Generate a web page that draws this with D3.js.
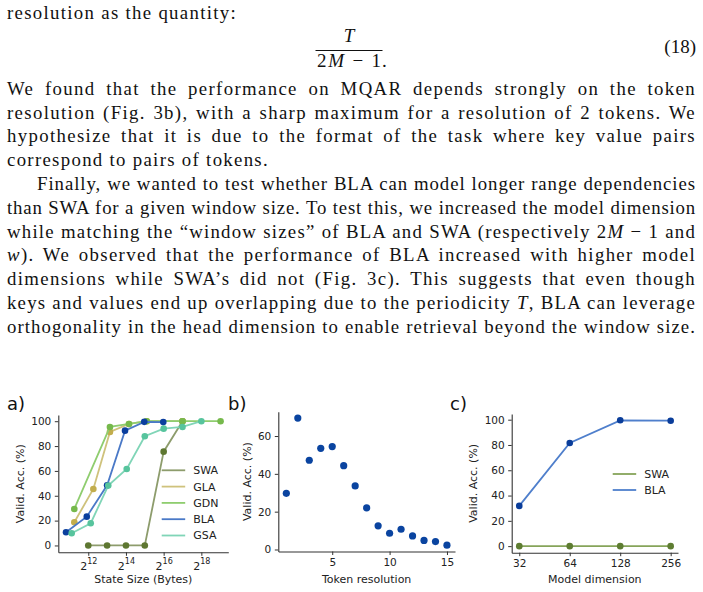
<!DOCTYPE html>
<html>
<head>
<meta charset="utf-8">
<script src="https://cdn.jsdelivr.net/npm/d3@7"></script>
<style>
  body { margin: 0; background: #fff; width: 703px; height: 592px; overflow: hidden; position: relative; }
  .ln { position: absolute; left: 7px; width: 689px; height: 23.77px; line-height: 23.77px;
        font-family: "Liberation Serif", serif; font-size: 18.8px; color: #111;
        text-align: justify; text-align-last: justify; }
  .ln.last { text-align-last: left; }
  .ln.ind { text-indent: 30px; }
  .ln span { white-space: nowrap; }
  svg { position: absolute; left: 0; top: 0; }
</style>
</head>
<body>
<div id="text"></div>
<svg id="fig" width="703" height="592"></svg>
<script>
// ---- paper text (one entry per printed line) ----
const paraLines = [
  "We found that the performance on MQAR depends strongly on the token",
  "resolution (Fig. 3b), with a sharp maximum for a resolution of 2 tokens. We",
  "hypothesize that it is due to the format of the task where key value pairs",
  "correspond to pairs of tokens.",
  "Finally, we wanted to test whether BLA can model longer range dependencies",
  "than SWA for a given window size. To test this, we increased the model dimension",
  "while matching the “window sizes” of BLA and SWA (respectively 2<i>M</i> − 1 and",
  "<i>w</i>). We observed that the performance of BLA increased with higher model",
  "dimensions while SWA’s did not (Fig. 3c). This suggests that even though",
  "keys and values end up overlapping due to the periodicity <i>T</i>, BLA can leverage",
  "orthogonality in the head dimension to enable retrieval beyond the window size."
];

// ---- panel a: state size (bytes) vs accuracy ----
const seriesNames = ["SWA", "GLA", "GDN", "BLA", "GSA"];
const swaBytes = [4096, 8192, 16384, 32768, 65536, 131072];
const swaAcc   = [0, 0, 0, 0, 75.5, 100];
const glaBytes = [2452, 4939, 9090, 18306, 35120, 131072];
const glaAcc   = [18.7, 45.5, 91.4, 97.8, 100, 100];
const gdnBytes = [2452, 9090, 18306, 35120, 131072, 531600];
const gdnAcc   = [29.4, 95.4, 97.8, 100, 100, 100];
const blaBytes = [1808, 3875, 8192, 15826, 32093, 64635];
const blaAcc   = [10.6, 23.2, 48.4, 92.4, 99.5, 99.3];
const gsaBytes = [2226, 4482, 8540, 16844, 32768, 65536, 131072, 262144];
const gsaAcc   = [9.8, 17.9, 48.2, 61.6, 87.9, 94.0, 95.4, 100];
const stateTicks = [4096, 16384, 65536, 262144];

// ---- panel b: token resolution ----
const tokenRes = [1, 2, 3, 4, 5, 6, 7, 8, 9, 10, 11, 12, 13, 14, 15];
const tokenAcc = [29.7, 69.5, 47.2, 53.5, 54.4, 44.3, 33.6, 22.0, 12.5, 8.6, 10.7, 7.2, 4.8, 4.2, 2.3];
const tokenTicks = [5, 10, 15];

// ---- panel c: model dimension ----
const modelDims = [32, 64, 128, 256];
const dimSwaAcc = [0, 0, 0, 0];
const dimBlaAcc = [31.8, 81.6, 99.5, 99.2];
const accTicks = [0, 20, 40, 60, 80, 100];

const COLORS = {
  SWA: {line: "#8d9c6c", dot: "#5e7731"},
  GLA: {line: "#cfc27c", dot: "#c2ad4c"},
  GDN: {line: "#8fcd6f", dot: "#76b94c"},
  BLA: {line: "#4a79c7", dot: "#0b3f9e"},
  GSA: {line: "#80d5b7", dot: "#57c49d"}
};
const SANS = "'DejaVu Sans', sans-serif";
const SERIF = "'Liberation Serif', serif";

/**
 * spread letters a bit (CM is wider than Times), justify does the rest
 */
const fitLine = (div, target) => {
  const span = div.select("span");
  div.style("text-align", "left").style("text-align-last", "left");
  const n = span.node().textContent.length;
  const w = span.node().getBoundingClientRect().width;
  const ls = Math.max(0, Math.min(1.35, (target - w) / n));
  div.style("letter-spacing", ls + "px").style("text-align", null).style("text-align-last", null);
  span.style("white-space", "normal");
};

/** paragraph text, each printed line its own justified box */
const drawText = () => {
  const box = d3.select("#text");
  const first = box.append("div").attr("class", "ln last").style("top", "1.4px");
  first.append("span").text("resolution as the quantity:");
  fitLine(first, 230);

  box.selectAll("div.p").data(paraLines).enter().append("div")
     .attr("class", (d, i) => "ln p" + (i === 3 ? " last" : "") + (i === 4 ? " ind" : ""))
     .style("top", (d, i) => (76.9 + i * 23.77) + "px")
     .append("span").html(d => d);
  box.selectAll("div.p").each(function(d, i) {
    const target = i === 3 ? 262 : (i === 4 ? 656 : 686);
    fitLine(d3.select(this), target);
  });
};

/** equation (18) */
const drawEquation = (svg) => {
  const eq = svg.append("g").attr("font-family", SERIF).attr("font-size", 19).attr("fill", "#111");
  eq.append("text").attr("x", 349).attr("y", 42).attr("text-anchor", "middle")
    .attr("font-style", "italic").text("T");
  eq.append("line").attr("x1", 315.5).attr("x2", 382.5).attr("y1", 50.5).attr("y2", 50.5)
    .attr("stroke", "#111").attr("stroke-width", 1);
  const den = eq.append("text").attr("x", 317).attr("y", 67)
    .attr("textLength", 64).attr("lengthAdjust", "spacing");
  den.append("tspan").text("2");
  den.append("tspan").attr("font-style", "italic").text("M");
  den.append("tspan").text(" − 1");
  eq.append("text").attr("x", 382).attr("y", 67).text(".");
  eq.append("text").attr("x", 696).attr("y", 53).attr("text-anchor", "end").text("(18)");
};

/** axes frame shared by the three panels */
const frame = (svg, box, x, y, xAxis, yAxis, opts) => {
  const g = svg.append("g");
  const gx = g.append("g").attr("class", "xaxis").attr("transform", `translate(0,${box.b})`).call(xAxis);
  const gy = g.append("g").attr("transform", `translate(${box.l},0)`).call(yAxis);
  [gx, gy].forEach(a => {
    a.attr("font-family", SANS).attr("font-size", 10.5);
    a.select(".domain").attr("stroke", "#333").attr("stroke-width", 1.1);
    a.selectAll(".tick line").attr("stroke", "#333").attr("stroke-width", 1);
    a.selectAll(".tick text").attr("fill", "#222");
  });
  g.append("text")
   .attr("transform", `translate(${opts.ylx},${(box.t + box.b) / 2}) rotate(-90)`)
   .attr("text-anchor", "middle").attr("dy", "0.35em")
   .attr("font-family", SANS).attr("font-size", 11).attr("fill", "#222")
   .text("Valid. Acc. (%)");
  g.append("text")
   .attr("x", (box.l + box.r) / 2).attr("y", 583).attr("text-anchor", "middle")
   .attr("font-family", SANS).attr("font-size", 11).attr("fill", "#222")
   .text(opts.xlabel);
  g.append("text").attr("x", opts.tagX).attr("y", 410)
   .attr("font-family", SANS).attr("font-size", 18).attr("fill", "#111")
   .text(opts.tag);
  return g;
};

const drawSeries = (g, x, y, xs, ys, c, r) => {
  const pts = xs.map((v, i) => [v, ys[i]]);
  g.append("path").datum(pts)
   .attr("fill", "none").attr("stroke", c.line).attr("stroke-width", 1.8)
   .attr("d", d3.line().x(d => x(d[0])).y(d => y(d[1])));
  g.selectAll(null).data(pts).enter().append("circle")
   .attr("cx", d => x(d[0])).attr("cy", d => y(d[1])).attr("r", r)
   .attr("fill", c.dot);
};

const drawLegend = (g, items, x0, y0, step) => {
  items.forEach(([n, c], i) => {
    const yy = y0 + i * step;
    g.append("line").attr("x1", x0).attr("x2", x0 + 23.5).attr("y1", yy).attr("y2", yy)
     .attr("stroke", c.line).attr("stroke-width", 1.8);
    g.append("text").attr("x", x0 + 31.5).attr("y", yy).attr("dy", "0.36em")
     .attr("font-family", SANS).attr("font-size", 11).attr("fill", "#222").text(n);
  });
};

const drawPanelA = (svg) => {
  const box = {l: 58.3, r: 228.3, t: 415, b: 552.3};
  const x = d3.scaleLog().base(2).domain([Math.pow(2, 10.41), Math.pow(2, 19.43)]).range([box.l, box.r]);
  const y = d3.scaleLinear().domain([-5.5, 105]).range([box.b, box.t]);
  const xAxis = d3.axisBottom(x).tickValues(stateTicks).tickSize(3.5).tickPadding(4).tickSizeOuter(0)
                  .tickFormat(() => "");
  const yAxis = d3.axisLeft(y).tickValues(accTicks).tickSize(3.5).tickPadding(3.5).tickSizeOuter(0);
  const g = frame(svg, box, x, y, xAxis, yAxis,
                  {ylx: 20, xlabel: "State Size (Bytes)", tag: "a)", tagX: 7});
  // 2^n tick labels
  g.select(".xaxis").selectAll(".tick").each(function(d) {
    const t = d3.select(this).select("text").attr("dy", null).attr("y", 17.5).attr("font-size", 11);
    t.append("tspan").text("2");
    t.append("tspan").attr("font-size", 8).attr("dy", -5.5).text(Math.round(Math.log2(d)));
  });
  const data = {
    SWA: [swaBytes, swaAcc], GLA: [glaBytes, glaAcc], GDN: [gdnBytes, gdnAcc],
    BLA: [blaBytes, blaAcc], GSA: [gsaBytes, gsaAcc]
  };
  seriesNames.forEach(n => drawSeries(g, x, y, data[n][0], data[n][1], COLORS[n], 3.3));
  drawLegend(g, seriesNames.map(n => [n, COLORS[n]]), 161.7, 470.3, 16.3);
};

const drawPanelB = (svg) => {
  const box = {l: 278.3, r: 455, t: 411.7, b: 551.5};
  const xe = d3.extent(tokenRes), ye = d3.extent(tokenAcc);
  const px = (xe[1] - xe[0]) * 0.05, py = (ye[1] - ye[0]) * 0.05;
  const x = d3.scaleLinear().domain([xe[0] - px, xe[1] + px]).range([box.l, box.r]);
  const y = d3.scaleLinear().domain([ye[0] - py, ye[1] + py]).range([box.b, box.t]);
  const xAxis = d3.axisBottom(x).tickValues(tokenTicks).tickSize(3.5).tickPadding(3.5).tickSizeOuter(0);
  const yAxis = d3.axisLeft(y).tickValues([0, 20, 40, 60]).tickSize(3.5).tickPadding(3.5).tickSizeOuter(0);
  const g = frame(svg, box, x, y, xAxis, yAxis,
                  {ylx: 246.7, xlabel: "Token resolution", tag: "b)", tagX: 228});
  g.selectAll(null).data(tokenRes).enter().append("circle")
   .attr("cx", d => x(d)).attr("cy", (d, i) => y(tokenAcc[i])).attr("r", 3.6)
   .attr("fill", "#0a44a0");
};

const drawPanelC = (svg) => {
  const box = {l: 511.7, r: 678, t: 414, b: 552.7};
  const x = d3.scaleLog().base(2).domain([Math.pow(2, 4.85), Math.pow(2, 8.145)]).range([box.l, box.r]);
  const y = d3.scaleLinear().domain([-5.2, 104.5]).range([box.b, box.t]);
  const xAxis = d3.axisBottom(x).tickValues(modelDims).tickFormat(d3.format("d"))
                  .tickSize(3.5).tickPadding(3.5).tickSizeOuter(0);
  const yAxis = d3.axisLeft(y).tickValues(accTicks).tickSize(3.5).tickPadding(3.5).tickSizeOuter(0);
  const g = frame(svg, box, x, y, xAxis, yAxis,
                  {ylx: 473.3, xlabel: "Model dimension", tag: "c)", tagX: 450});
  const cSwa = {line: "#86a45a", dot: "#5e7d32"};
  const cBla = {line: "#4f7fcc", dot: "#0a3d9a"};
  drawSeries(g, x, y, modelDims, dimSwaAcc, cSwa, 3.3);
  drawSeries(g, x, y, modelDims, dimBlaAcc, cBla, 3.3);
  drawLegend(g, [["SWA", cSwa], ["BLA", cBla]], 612.7, 474, 16);
};

const svg = d3.select("#fig");
drawText();
drawEquation(svg);
drawPanelA(svg);
drawPanelB(svg);
drawPanelC(svg);
</script>
</body>
</html>
